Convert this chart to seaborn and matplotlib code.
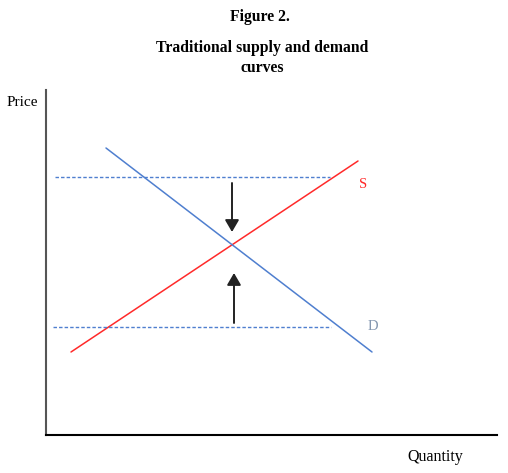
import numpy as np
import pandas as pd
import matplotlib
matplotlib.use("Agg")
import matplotlib.pyplot as plt
import seaborn as sns

# data (in plot units, origin at axes corner)
supply_q = [25, 312]
supply_p = [83, 274]
demand_q = [60, 326]
demand_p = [287, 83]
high_q = [9, 284]
high_p = [258, 258]
low_q = [7, 285]
low_p = [108, 108]
arrow_down = (186, 252, 203)   # x, y start, y end
arrow_up = (188, 112, 162)

sns.set_theme(style="white")
plt.rcParams['font.family'] = ['Liberation Serif', 'DejaVu Serif']
plt.rcParams['text.color'] = 'black'

fig = plt.figure(figsize=(5.08, 4.73), dpi=100)
ax = fig.add_axes([46/508, 38/473, 451/508, 345/473])

sup = pd.DataFrame({"q": supply_q, "p": supply_p})
dem = pd.DataFrame({"q": demand_q, "p": demand_p})
sns.lineplot(data=sup, x="q", y="p", color="#ff2a2a", lw=1.1, ax=ax)
sns.lineplot(data=dem, x="q", y="p", color="#4f7fcf", lw=1.1, ax=ax)
sns.lineplot(x=high_q, y=high_p, color="#4f7fcf", lw=1.0, ls=(0, (2.5, 1.5)), ax=ax)
sns.lineplot(x=low_q, y=low_p, color="#4f7fcf", lw=1.0, ls=(0, (2.5, 1.5)), ax=ax)

for x, y0, y1 in [arrow_down, arrow_up]:
    ax.annotate("", xy=(x, y1), xytext=(x, y0),
                arrowprops=dict(arrowstyle="-|>,head_width=0.35,head_length=0.6",
                                color="#222222", lw=1.4, shrinkA=0, shrinkB=0))

ax.text(313, 251, "S", color="#ff2a2a", fontsize=10.5, ha="left", va="center")
ax.text(322, 108, "D", color="#8497b0", fontsize=10.5, ha="left", va="center")

ax.set_xlim(0, 451)
ax.set_ylim(0, 345)
ax.set_xticks([])
ax.set_yticks([])
ax.set_xlabel("")
ax.set_ylabel("")
for s in ["top", "right"]:
    ax.spines[s].set_visible(False)
ax.spines["left"].set_color("#555555")
ax.spines["left"].set_linewidth(1.5)
ax.spines["bottom"].set_color("black")
ax.spines["bottom"].set_linewidth(1.5)

fig.text(260/508, 1 - 17/473, "Figure 2.", ha="center", va="center",
         fontsize=11.3, fontweight="bold")
fig.text(262/508, 1 - 48/473, "Traditional supply and demand", ha="center",
         va="center", fontsize=11.3, fontweight="bold")
fig.text(262/508, 1 - 68/473, "curves", ha="center", va="center",
         fontsize=11.3, fontweight="bold")
fig.text(22/508, 1 - 103/473, "Price", ha="center", va="center", fontsize=11)
fig.text(435/508, 1 - 457/473, "Quantity", ha="center", va="center", fontsize=11.5)

fig.savefig("out.png", dpi=100)
